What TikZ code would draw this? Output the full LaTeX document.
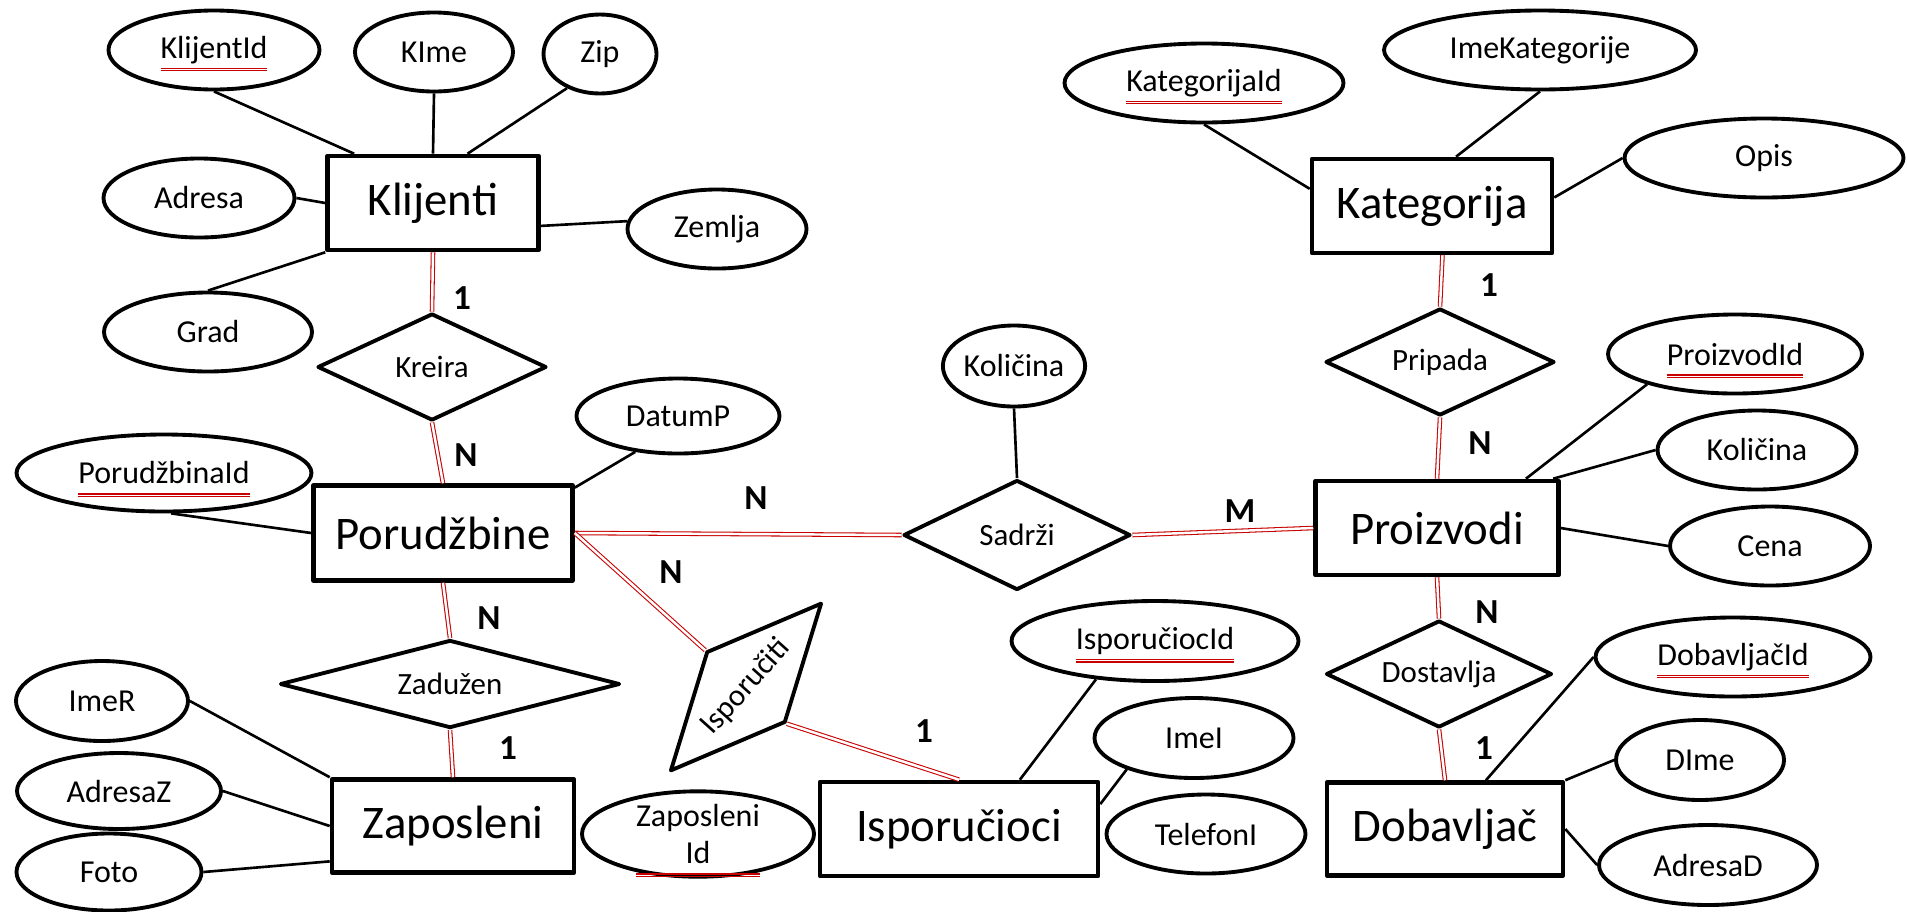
\documentclass[tikz,border=0pt]{standalone}
\usepackage{fontspec}
\setmainfont{Carlito}
\usetikzlibrary{shapes.geometric}
\definecolor{keyred}{RGB}{200,0,0}
\newcommand{\pkeyw}[2]{\setbox0=\hbox{#1}\setbox2=\hbox{#2}%
	\rlap{\makebox[\wd2][c]{\smash{\color{keyred}\rule[-3pt]{\wd0}{0.3pt}}}}%
	\rlap{\makebox[\wd2][c]{\smash{\color{keyred}\rule[-3.7pt]{\wd0}{0.3pt}}}}%
	\box2}
\newcommand{\pkey}[1]{\pkeyw{#1}{#1}}

\begin{document}
\begin{tikzpicture}[x=0.1mm, y=0.1mm, yscale=-1, line join=round,
	entity/.style={draw, rectangle, line width=1.3pt, minimum height=0.94cm, inner sep=0pt, font=\fontsize{13.3}{16}\selectfont},
	attrib/.style={draw, ellipse, line width=1.1pt, minimum height=0.79cm, inner sep=0pt, font=\fontsize{9.1}{10.8}\selectfont},
	relation/.style={draw, diamond, aspect=2.1, line width=1.1pt, inner sep=0pt, font=\fontsize{8.8}{10}\selectfont},
	card/.style={font=\bfseries\fontsize{10}{12}\selectfont, inner sep=0pt},
	attrline/.style={line width=0.75pt},
	relline/.style={draw=keyred, line width=0.3pt, double=white, double distance=0.7pt}]
	\useasboundingbox (0,0) rectangle (1907,911);

	\node[entity, minimum width=2.11cm] (klij) at ( 433,203) {Klijenti};
	\node[entity, minimum width=2.40cm] (kat)  at (1432,206) {Kategorija};
	\node[entity, minimum width=2.59cm, minimum height=0.95cm] (por) at (443,533) {Porudžbine};
	\node[entity, minimum width=2.43cm] (proi) at (1437,528) {Proizvodi};
	\node[entity, minimum width=2.42cm, minimum height=0.93cm] (zap) at (453,826) {Zaposleni};
	\node[entity, minimum width=2.78cm] (isp)  at ( 959,829) {Isporučioci};
	\node[entity, minimum width=2.36cm, minimum height=0.93cm] (dob) at (1445,829) {Dobavljač};

	\node[relation, minimum width=2.29cm, minimum height=1.07cm] (kre)  at ( 432,367) {Kreira};
	\node[relation, minimum width=2.29cm, minimum height=1.07cm] (prip) at (1440,362) {Pripada};
	\node[relation, minimum width=2.27cm, minimum height=1.10cm] (sad)  at (1017,535) {Sadrži};
	\node[relation, minimum width=3.40cm, minimum height=0.88cm, aspect=3.9] (zad) at (450,684) {Zadužen};
	\node[relation, minimum width=2.26cm, minimum height=1.07cm] (dost) at (1439,674) {Dostavlja};
	\node[relation, minimum width=2.26cm, minimum height=1.06cm, rotate=48] (ispr) at (746,687) {Isporučiti};

	\node[attrib, minimum width=2.11cm] (klid) at ( 214, 50) {\pkey{KlijentId}};
	\node[attrib, minimum width=1.58cm] (kime) at ( 434, 52) {KIme};
	\node[attrib, minimum width=1.13cm] (zip)  at ( 600, 54) {Zip};
	\node[attrib, minimum width=1.91cm] (adr)  at ( 199,198) {Adresa};
	\node[attrib, minimum width=1.79cm] (zem)  at ( 717,229) {Zemlja};
	\node[attrib, minimum width=2.08cm] (grad) at ( 208,332) {Grad};
	\node[attrib, minimum width=2.03cm, minimum height=0.75cm] (datp)  at (678,416) {DatumP};
	\node[attrib, minimum width=2.95cm, minimum height=0.77cm] (porid) at (164,473) {\pkey{PorudžbinaId}};
	\node[attrib, minimum width=1.21cm, minimum height=0.81cm] (kol)   at (1014,366) {Količina};
	\node[attrib, minimum width=2.79cm] (katid)  at (1204, 83) {\pkey{KategorijaId}};
	\node[attrib, minimum width=3.12cm] (imekat) at (1540, 50) {ImeKategorije};
	\node[attrib, minimum width=2.79cm] (opis)   at (1764,158) {Opis};
	\node[attrib, minimum width=2.54cm] (proid)  at (1735,354) {\pkey{ProizvodId}};
	\node[attrib, minimum width=1.99cm] (kolp)   at (1757,450) {Količina};
	\node[attrib, minimum width=2.00cm] (cena)   at (1770,546) {Cena};
	\node[attrib, minimum width=1.72cm, minimum height=0.80cm] (imer) at (102,701) {ImeR};
	\node[attrib, minimum width=2.04cm, minimum height=0.76cm] (adrz) at (119,791) {AdresaZ};
	\node[attrib, minimum width=1.85cm, minimum height=0.77cm] (foto) at (109,872) {Foto};
	\node[attrib, minimum width=2.32cm, align=center] (zapid) at (698,834) {Zaposleni\\\pkeyw{Zaposleni}{Id}};
	\node[attrib, minimum width=2.87cm, minimum height=0.80cm] (ispid) at (1155,641) {\pkey{IsporučiocId}};
	\node[attrib, minimum width=1.99cm, minimum height=0.80cm] (imei)  at (1194,738) {ImeI};
	\node[attrib, minimum width=1.99cm] (tel)   at (1206,834) {TelefonI};
	\node[attrib, minimum width=2.75cm] (dobid) at (1733,657) {\pkey{DobavljačId}};
	\node[attrib, minimum width=1.68cm, minimum height=0.80cm] (dime) at (1700,760) {DIme};
	\node[attrib, minimum width=2.18cm, minimum height=0.80cm] (adrd) at (1708,865) {AdresaD};

	\draw[attrline] (klid.south) -- (klij.148);
	\draw[attrline] (kime.south) -- (klij.north);
	\draw[attrline] (zip.226) -- (klij.55);
	\draw[attrline] (adr.east) -- (klij.west);
	\draw[attrline] (klij.-12) -- (zem.175);
	\draw[attrline] (grad.north) -- (klij.south west);
	\draw[attrline] (por.19) -- (datp.220);
	\draw[attrline] (porid.-80) -- (por.west);
	\draw[attrline] (kol.south) -- (sad.north);
	\draw[attrline] (katid.south) -- (kat.172);
	\draw[attrline] (imekat.south) -- (kat.64);
	\draw[attrline] (kat.4) -- (opis.west);
	\draw[attrline] (proid.199) -- (proi.29);
	\draw[attrline] (proi.23) -- (kolp.west);
	\draw[attrline] (proi.east) -- (cena.west);
	\draw[attrline] (imer.east) -- (zap.north west);
	\draw[attrline] (adrz.east) -- (zap.west);
	\draw[attrline] (foto.east) -- (zap.196);
	\draw[attrline] (ispid.213) -- (isp.39);
	\draw[attrline] (imei.205) -- (isp.10);
	\draw[attrline] (dob.50) -- (dobid.west);
	\draw[attrline] (dob.north east) -- (dime.west);
	\draw[attrline] (dob.east) -- (adrd.west);

	\draw[relline] (klij.south) -- (kre.north);
	\draw[relline] (kre.south) -- (por.north);
	\draw[relline] (por.east) -- (sad.west);
	\draw[relline] (sad.east) -- (proi.west);
	\draw[relline] (por.east) -- (ispr.north);
	\draw[relline] (ispr.south) -- (isp.north);
	\draw[relline] (por.south) -- (zad.north);
	\draw[relline] (zad.south) -- (zap.north);
	\draw[relline] (kat.-78) -- (prip.north);
	\draw[relline] (prip.south) -- (proi.north);
	\draw[relline] (proi.south) -- (dost.north);
	\draw[relline] (dost.south) -- (dob.north);

	\node[card] (c1)  at ( 462,298) {1};
	\node[card] (c2)  at ( 466,455) {N};
	\node[card] (c3)  at ( 756,498) {N};
	\node[card] (c4)  at (1240,511) {M};
	\node[card] (c5)  at ( 671,572) {N};
	\node[card] (c6)  at ( 489,618) {N};
	\node[card] (c7)  at ( 508,748) {1};
	\node[card] (c8)  at ( 924,731) {1};
	\node[card] (c9)  at (1489,285) {1};
	\node[card] (c10) at (1480,443) {N};
	\node[card] (c11) at (1487,612) {N};
	\node[card] (c12) at (1484,748) {1};
\end{tikzpicture}
\end{document}
